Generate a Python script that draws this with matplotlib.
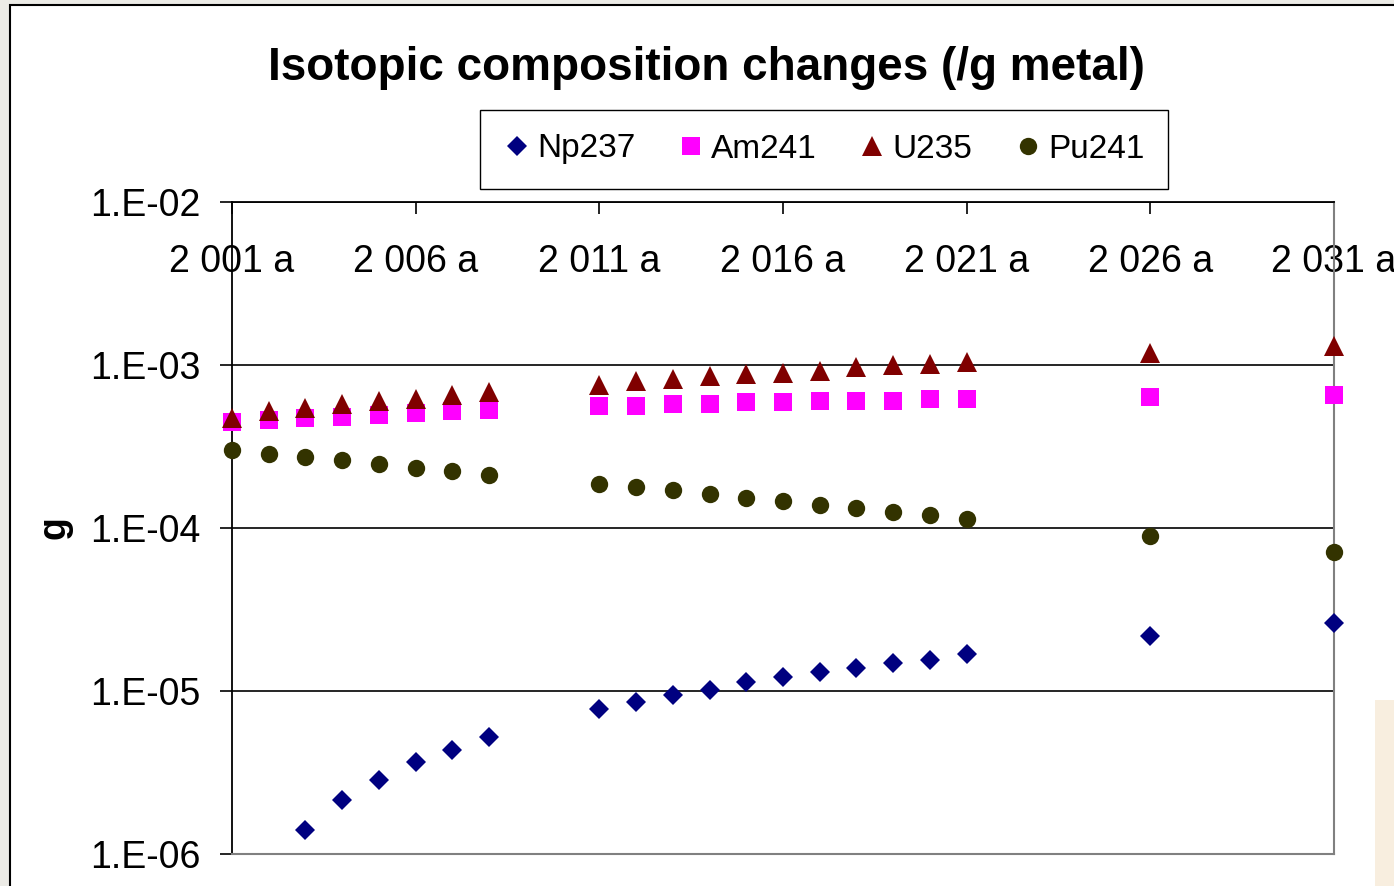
import numpy as np
import matplotlib
matplotlib.use('Agg')
import matplotlib.pyplot as plt
from matplotlib.patches import Rectangle
from matplotlib.ticker import FixedLocator, NullLocator

plt.rcParams['font.family'] = ['Liberation Sans', 'DejaVu Sans']

# 数据
years = [2001, 2002, 2003, 2004, 2005, 2006, 2007, 2008,
         2011, 2012, 2013, 2014, 2015, 2016, 2017, 2018, 2019, 2020, 2021,
         2026, 2031]

np237 = [np.nan, np.nan, 1.40e-6, 2.13e-6, 2.86e-6, 3.69e-6, 4.37e-6, 5.21e-6,
         7.78e-6, 8.59e-6, 9.49e-6, 1.02e-5, 1.13e-5, 1.22e-5, 1.31e-5, 1.38e-5, 1.49e-5, 1.56e-5, 1.68e-5,
         2.17e-5, 2.63e-5]
am241 = [4.47e-4, 4.60e-4, 4.71e-4, 4.82e-4, 4.94e-4, 5.08e-4, 5.20e-4, 5.32e-4,
         5.60e-4, 5.60e-4, 5.75e-4, 5.75e-4, 5.90e-4, 5.90e-4, 6.04e-4, 6.04e-4, 6.04e-4, 6.18e-4, 6.18e-4,
         6.36e-4, 6.50e-4]
u235 = [4.76e-4, 5.21e-4, 5.46e-4, 5.74e-4, 6.03e-4, 6.18e-4, 6.50e-4, 6.85e-4,
        7.59e-4, 7.95e-4, 8.15e-4, 8.53e-4, 8.78e-4, 8.97e-4, 9.21e-4, 9.68e-4, 9.96e-4, 1.019e-3, 1.043e-3,
        1.18e-3, 1.30e-3]
pu241 = [3.02e-4, 2.86e-4, 2.73e-4, 2.60e-4, 2.46e-4, 2.34e-4, 2.23e-4, 2.12e-4,
         1.87e-4, 1.78e-4, 1.70e-4, 1.62e-4, 1.535e-4, 1.464e-4, 1.39e-4, 1.32e-4, 1.26e-4, 1.20e-4, 1.14e-4,
         8.91e-5, 7.13e-5]

tick_years = [2001, 2006, 2011, 2016, 2021, 2026, 2031]
y_ticks = [1e-6, 1e-5, 1e-4, 1e-3, 1e-2]
y_tick_labels = ['1.E-06', '1.E-05', '1.E-04', '1.E-03', '1.E-02']

W, H = 1394, 886
fig = plt.figure(figsize=(W / 100, H / 100), dpi=100)
fig.patch.set_facecolor('#ECEBE6')

# 图表区背景
fig.patches.append(Rectangle((10 / W, -0.1), 1.2, 1.1 - 5 / H, transform=fig.transFigure,
                             facecolor='white', edgecolor='black', linewidth=1.5, zorder=-2))
fig.patches.append(Rectangle((1375 / W, 0), 30 / W, 186 / H, transform=fig.transFigure,
                             facecolor='#F8EEDF', edgecolor='none', zorder=-1))

ax = fig.add_axes([232 / W, (H - 854) / H, 1102 / W, 652 / H])
ax.set_facecolor('white')

series = [
    ('Np237', np237, 'D', '#000080', 9.7),
    ('Am241', am241, 's', '#FF00FF', 12.3),
    ('U235', u235, '^', '#800000', 13.7),
    ('Pu241', pu241, 'o', '#333300', 12.5),
]
for name, vals, mk, col, ms in series:
    ax.plot(years, vals, linestyle='none', marker=mk, color=col, markersize=ms,
            markeredgewidth=0, label=name, clip_on=False, zorder=3)

ax.set_yscale('log')
ax.set_xlim(2001, 2031)
ax.set_ylim(1e-6, 1e-2)
ax.yaxis.set_major_locator(FixedLocator(y_ticks))
ax.yaxis.set_minor_locator(NullLocator())
ax.set_yticklabels(y_tick_labels)
ax.set_xticks(tick_years)
ax.set_xticklabels([f'{y // 1000} {y % 1000:03d} a' for y in tick_years])

ax.xaxis.set_ticks_position('top')
ax.tick_params(axis='x', direction='in', length=8.6, width=1.2, labelsize=27,
               top=True, bottom=False, labeltop=True, labelbottom=False, pad=-56)
ax.tick_params(axis='y', direction='out', length=8.6, width=1.2, labelsize=27, pad=14)

ax.grid(axis='y', which='major', color='black', linewidth=1.2)
ax.set_axisbelow(True)
ax.spines['left'].set_linewidth(1.3)
ax.spines['top'].set_linewidth(1.3)
ax.spines['right'].set_color('#808080')
ax.spines['right'].set_linewidth(1.5)
ax.spines['bottom'].set_color('#808080')
ax.spines['bottom'].set_linewidth(1.5)

ax.set_ylabel('g', fontsize=27, fontweight='bold', labelpad=13)

fig.text(706 / W, (H - 80) / H, 'Isotopic composition changes (/g metal)',
         ha='center', va='baseline', fontsize=33, fontweight='bold')

leg = fig.legend(loc='center', bbox_to_anchor=(824 / W, (H - 149) / H), ncol=4,
                 fontsize=24, frameon=True, fancybox=False, edgecolor='black',
                 framealpha=1, borderpad=0.72, handlelength=0.8, handletextpad=0.2,
                 columnspacing=1.27, markerscale=1.0, borderaxespad=0)
leg.get_frame().set_linewidth(1.0)

fig.savefig('out.png', dpi=100)
